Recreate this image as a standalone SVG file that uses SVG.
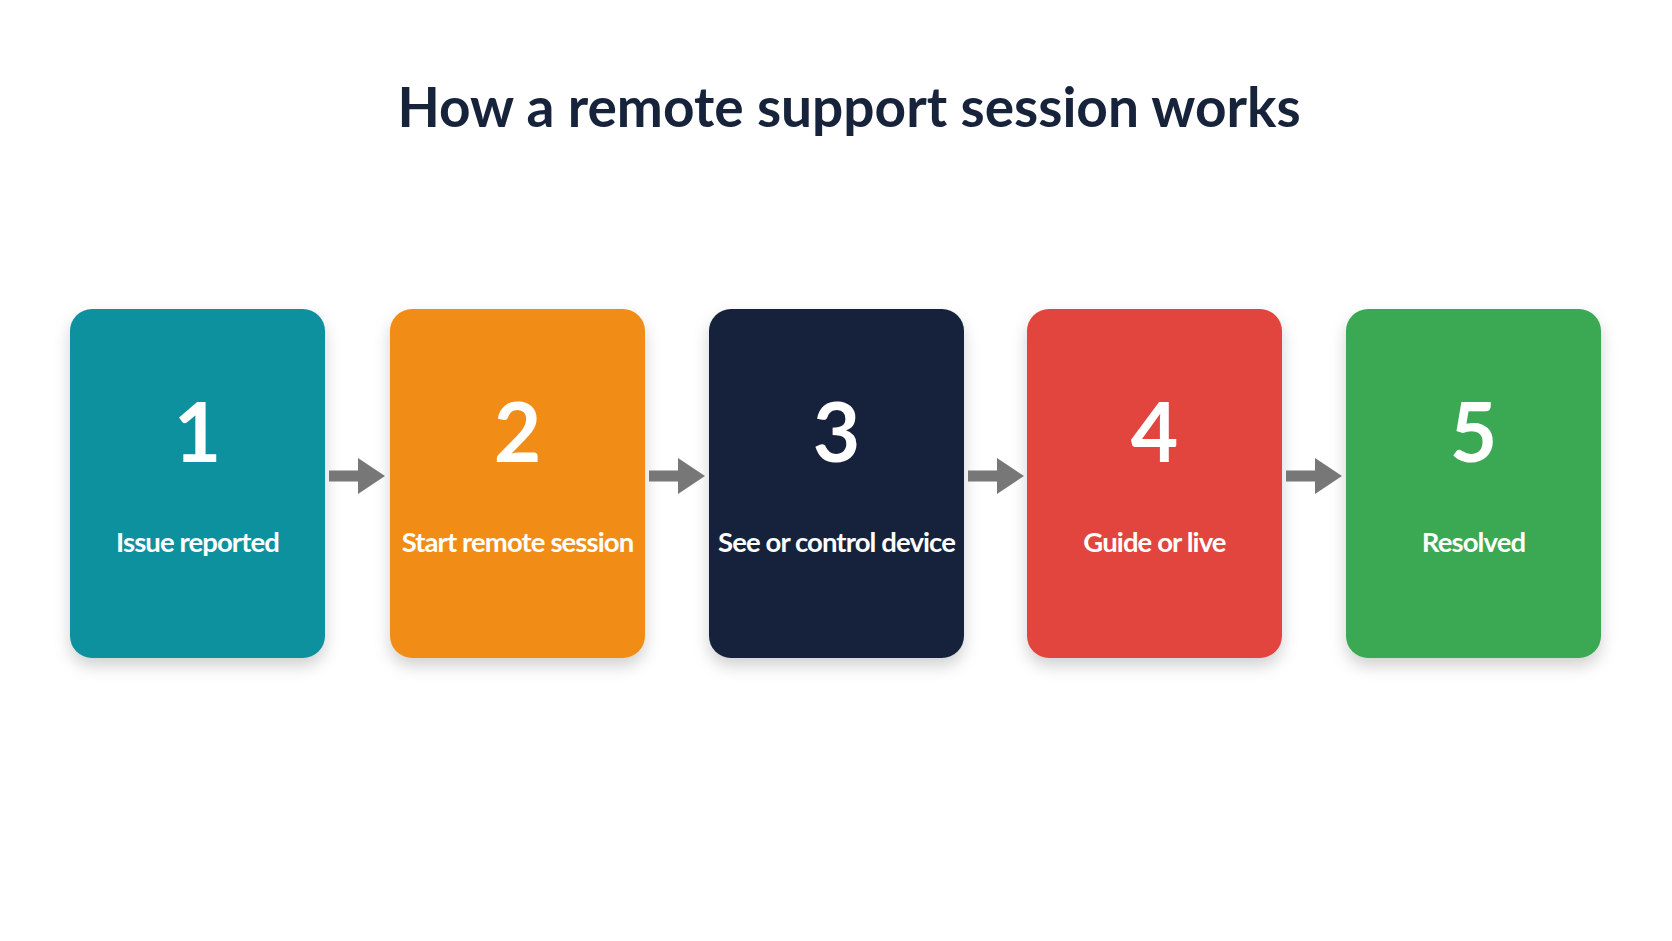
<svg xmlns="http://www.w3.org/2000/svg" width="1672" height="941" viewBox="0 0 1672 941">
  <style>
    .title { font-family: Lato, "Liberation Sans", sans-serif; font-weight: 700; font-size: 55px; fill: #16233B; text-anchor: middle; }
    .num { font-family: Lato, "Liberation Sans", sans-serif; font-weight: 700; font-size: 82px; fill: #FFFFFF; text-anchor: middle; }
    .lbl { font-family: Lato, "Liberation Sans", sans-serif; font-weight: 700; font-size: 27.5px; fill: #FFFFFF; text-anchor: middle; letter-spacing: -0.9px; }
    .card { filter: url(#shadow); }
    .arrow { fill: #777777; }
  </style>
  <defs>
    <filter id="shadow" x="-20%" y="-20%" width="140%" height="150%">
      <feDropShadow dx="0" dy="8" stdDeviation="8" flood-color="#000000" flood-opacity="0.18"/>
    </filter>
    <path id="arr" d="M0,-5.5 H29 V-18 L56,0 L29,18 V5.5 H0 Z"/>
  </defs>
  <rect width="1672" height="941" fill="#FFFFFF"/>
  <text class="title" x="849" y="127">How a remote support session works</text>

  <g id="node1">
    <rect class="card" x="70" y="309" width="255" height="349" rx="22" fill="#0E919F"/>
    <text class="num" x="197.5" y="462">1</text>
    <text class="lbl" x="197.5" y="552">Issue reported</text>
  </g>
  <g id="node2">
    <rect class="card" x="390" y="309" width="255" height="349" rx="22" fill="#F18D17"/>
    <text class="num" x="517.5" y="462">2</text>
    <text class="lbl" x="517.5" y="552">Start remote session</text>
  </g>
  <g id="node3">
    <rect class="card" x="709" y="309" width="255" height="349" rx="22" fill="#16233B"/>
    <text class="num" x="836.5" y="462">3</text>
    <text class="lbl" x="836.5" y="552">See or control device</text>
  </g>
  <g id="node4">
    <rect class="card" x="1027" y="309" width="255" height="349" rx="22" fill="#E2443C"/>
    <text class="num" x="1154.5" y="462">4</text>
    <text class="lbl" x="1154.5" y="552">Guide or live</text>
  </g>
  <g id="node5">
    <rect class="card" x="1346" y="309" width="255" height="349" rx="22" fill="#3BA853"/>
    <text class="num" x="1473.5" y="462">5</text>
    <text class="lbl" x="1473.5" y="552">Resolved</text>
  </g>

  <g id="connectors" class="arrow">
    <use href="#arr" x="329" y="476"/>
    <use href="#arr" x="649" y="476"/>
    <use href="#arr" x="968" y="476"/>
    <use href="#arr" x="1286" y="476"/>
  </g>
</svg>
